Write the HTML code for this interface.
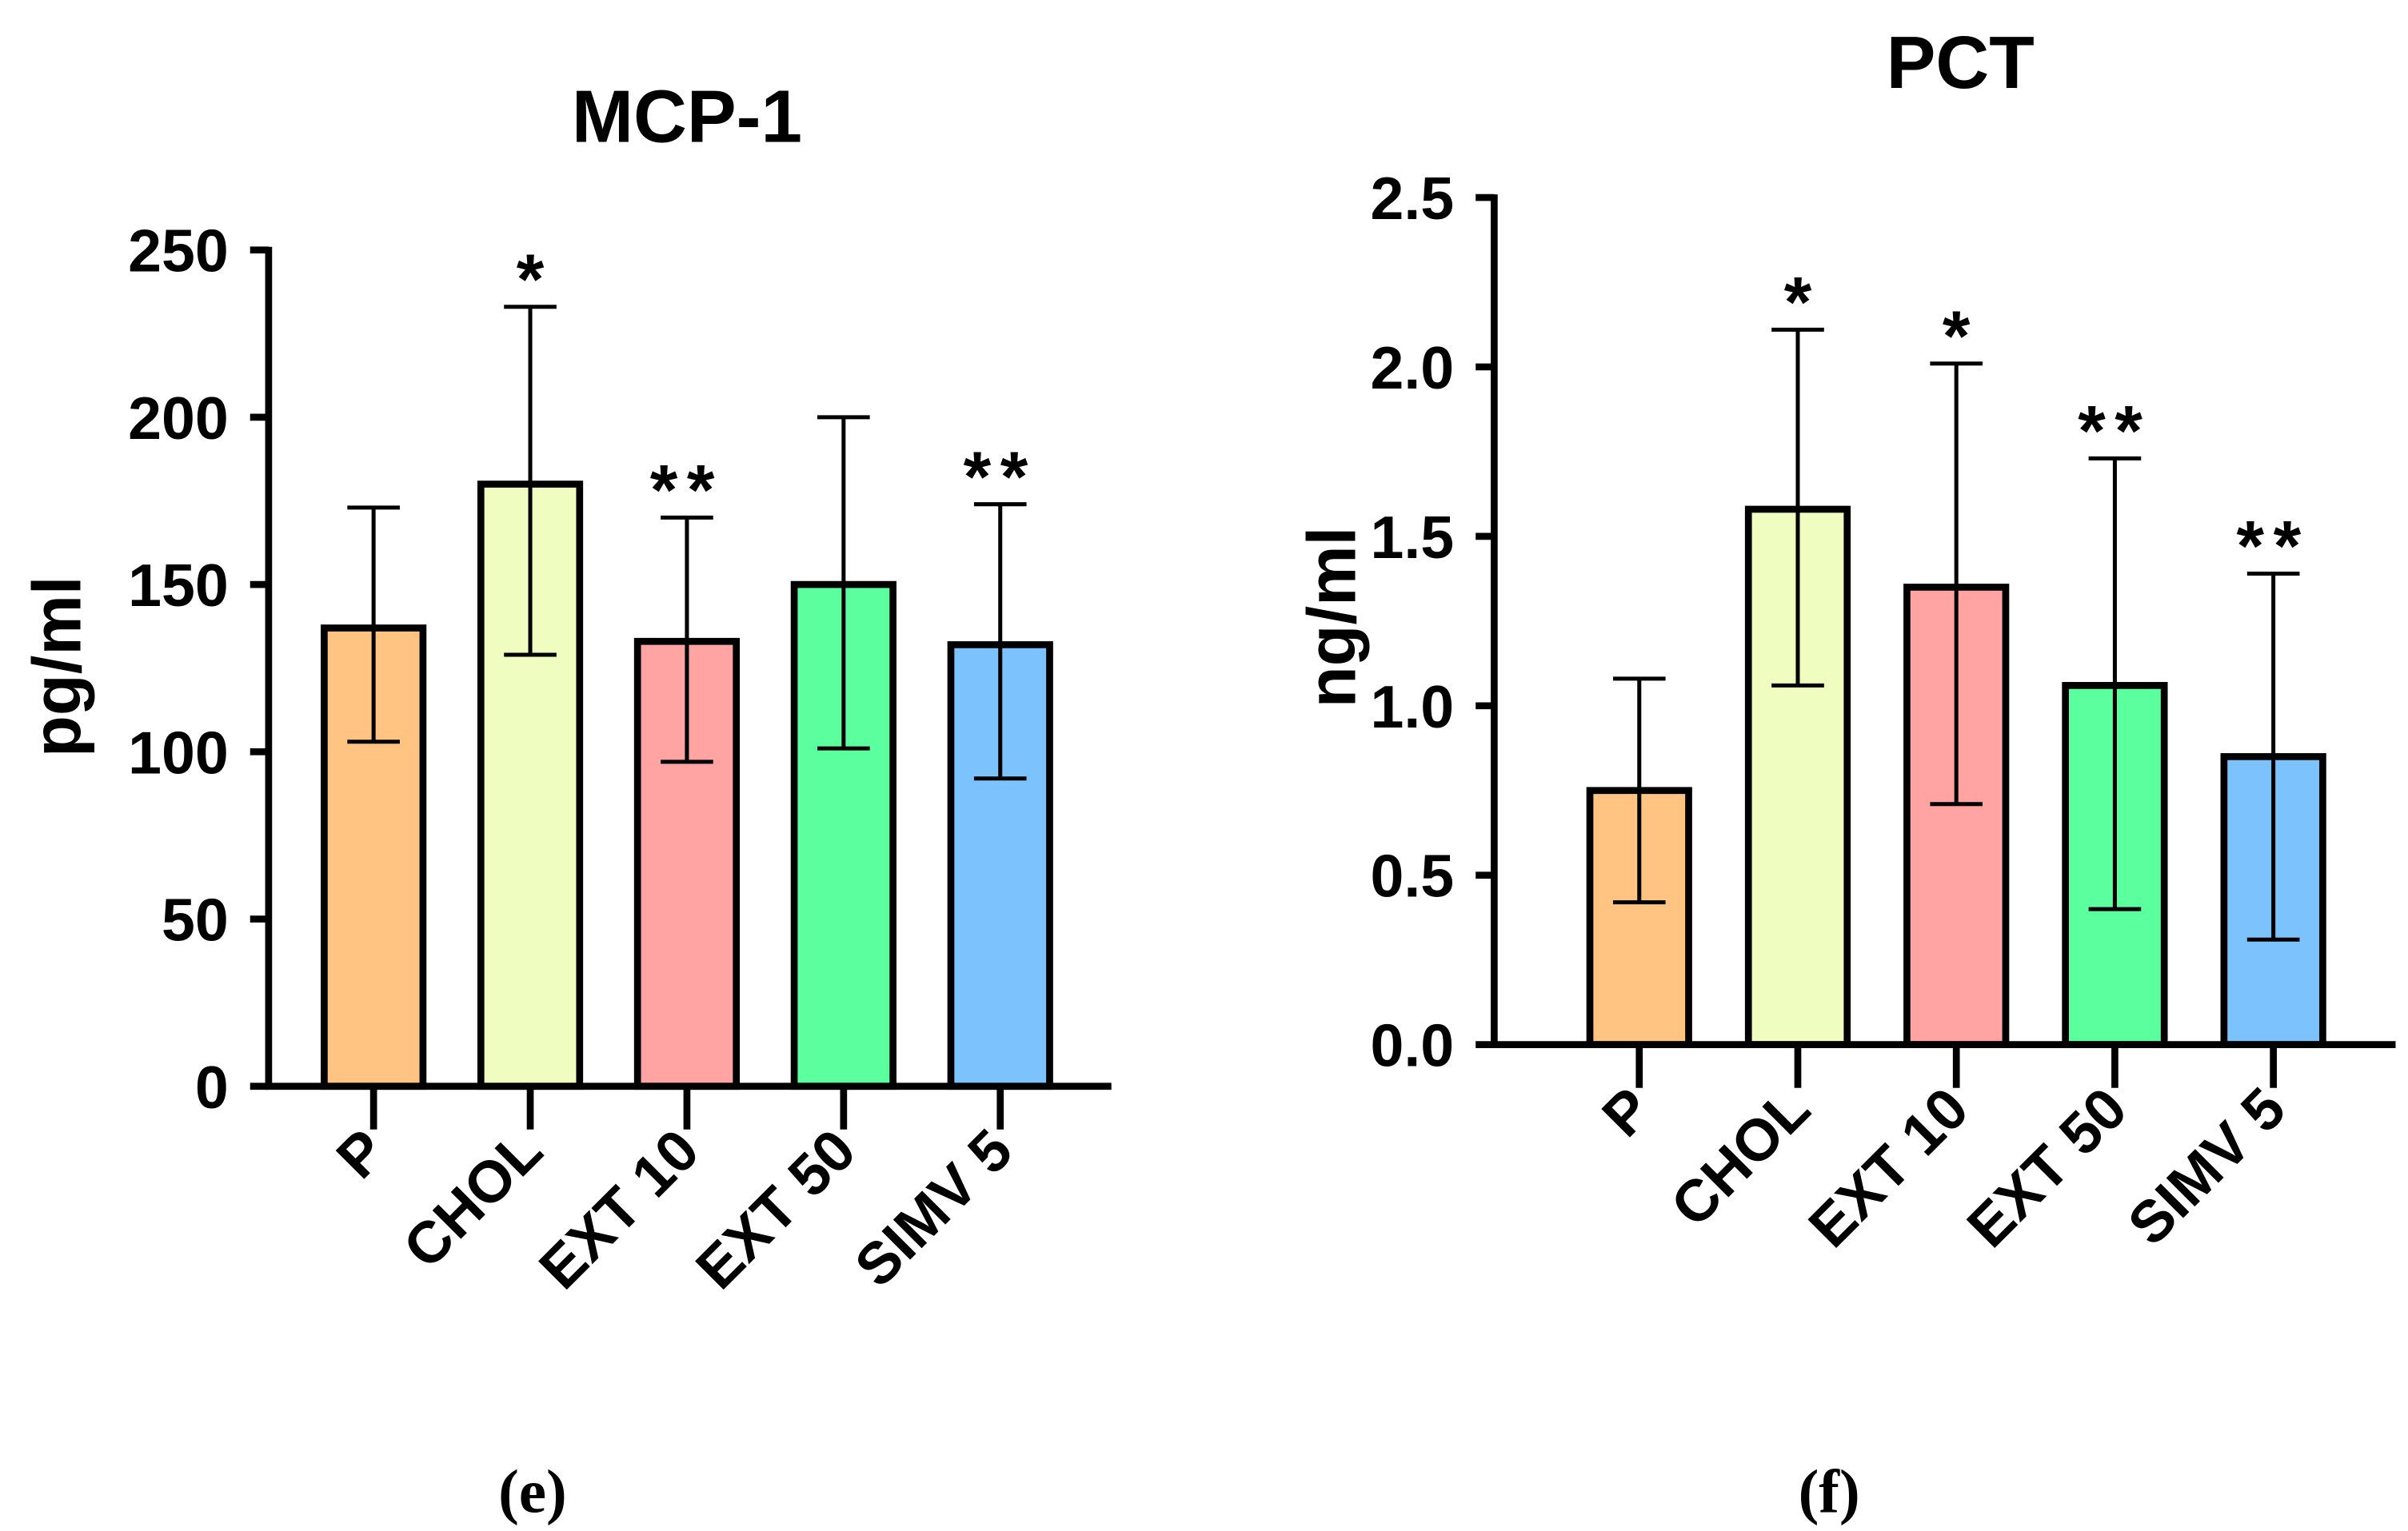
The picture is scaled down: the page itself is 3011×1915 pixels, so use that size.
<!DOCTYPE html>
<html><head><meta charset="utf-8"><style>
html,body{margin:0;padding:0;background:#fff;}
svg{display:block;}
text{font-family:"Liberation Sans",Arial,sans-serif;font-weight:bold;fill:#000;}
.cap{font-family:"Liberation Serif",serif;font-weight:bold;}
</style></head><body>
<svg id="fig" width="3011" height="1915" viewBox="0 0 1560 992.2">
<rect width="1560" height="992.2" fill="#fff"/>
</svg>
<script>
const categories = ["P","CHOL","EXT 10","EXT 50","SIMV 5"];
const colors = ["#FFC482","#F0FDC0","#FFA3A3","#5BFF9D","#7CC2FC"];
const mcpMeans = [137,180,133,150,132];
const mcpLow = [103,129,97,101,92];
const mcpHigh = [173,233,170,200,174];
const mcpStars = ["","*","**","","**"];
const mcpTicks = [0,50,100,150,200,250];
const pctMeans = [0.75,1.58,1.35,1.06,0.85];
const pctLow = [0.42,1.06,0.71,0.40,0.31];
const pctHigh = [1.08,2.11,2.01,1.73,1.39];
const pctStars = ["","*","*","**","**"];
const pctTicks = [0.0,0.5,1.0,1.5,2.0,2.5];
const pctTickLabels = ["0.0","0.5","1.0","1.5","2.0","2.5"];

const NS="http://www.w3.org/2000/svg";
const svg=document.getElementById('fig');
function el(tag,attrs,parent){const e=document.createElementNS(NS,tag);for(const k in attrs)e.setAttribute(k,attrs[k]);(parent||svg).appendChild(e);return e;}

function drawChart(o){
  const g=el('g',{});
  
  
  const y=v=>o.y0-(v-o.min)/(o.max-o.min)*(o.y0-o.yTop);
  const x=i=>o.x0+o.first+i*o.step;
  const t=el('text',{x:o.titleX,y:o.titleY,'font-size':48,'text-anchor':'middle'},g);t.textContent=o.title;
  
  
  const yl=el('text',{x:0,y:0,'font-size':44,'text-anchor':'middle',transform:`translate(${o.ylabX},${o.ylabY}) rotate(-90)`},g);yl.textContent=o.ylabel;
  
  
  o.means.forEach((m,i)=>{
    const cx=x(i),w=64;
    const r=el('rect',{x:cx-w/2,y:y(m),width:w,height:o.y0-y(m),fill:colors[i],stroke:'#000','stroke-width':4.5},g);
    
    
    const e=el('path',{d:`M${cx},${y(o.low[i])}V${y(o.high[i])}M${cx-17},${y(o.high[i])}H${cx+17}M${cx-17},${y(o.low[i])}H${cx+17}`,stroke:'#000','stroke-width':2.6,fill:'none'},g);
    
    
    if(o.stars[i]){
      const s=el('text',{x:cx,y:y(o.high[i])-2,'font-size':46,'text-anchor':'middle','letter-spacing':o.stars[i].length>1?6:0,'font-weight':'normal'},g);
      s.textContent=o.stars[i];
      
      
    }
    const tk=el('line',{x1:cx,x2:cx,y1:o.y0,y2:o.y0+28,stroke:'#000','stroke-width':4.5},g);
    
    
    const lb=el('text',{x:0,y:0,'font-size':38,'text-anchor':'end',transform:`translate(${cx+10},${o.y0+44}) rotate(-45)`},g);
    lb.textContent=categories[i];
    
    
  });
  const ax=el('path',{d:`M${o.x0},${o.yTop-2}V${o.y0}H${o.xEnd}`,stroke:'#000','stroke-width':4.5,fill:'none'},g);
  
  
  o.ticks.forEach((v,i)=>{
    const yy=y(v);
    const tl=el('line',{x1:o.x0-12,x2:o.x0,y1:yy,y2:yy,stroke:'#000','stroke-width':4.5},g);
    
    
    const tt=el('text',{x:o.x0-26,y:yy+14,'font-size':39,'text-anchor':'end'},g);
    tt.textContent=o.tickLabels[i];
    
    
  });
  const c=el('text',{x:o.capX,y:980,'font-size':40,'text-anchor':'middle',class:'cap'},g);
  c.textContent=o.cap;
  
  
}
drawChart({name:'mcp1-chart',title:'MCP-1',titleX:445,titleY:92,ylabel:'pg/ml',ylabX:52,ylabY:432,
  x0:174,xEnd:720,first:68,step:101.5,y0:704,yTop:162,min:0,max:250,
  means:mcpMeans,low:mcpLow,high:mcpHigh,stars:mcpStars,ticks:mcpTicks,tickLabels:mcpTicks.map(String),cap:'(e)',capX:345});
drawChart({name:'pct-chart',title:'PCT',titleX:1270,titleY:57,ylabel:'ng/ml',ylabX:878,ylabY:400,
  x0:968,xEnd:1552,first:94,step:102.7,y0:677,yTop:128,min:0,max:2.5,
  means:pctMeans,low:pctLow,high:pctHigh,stars:pctStars,ticks:pctTicks,tickLabels:pctTickLabels,cap:'(f)',capX:1185});
</script>
</body></html>
